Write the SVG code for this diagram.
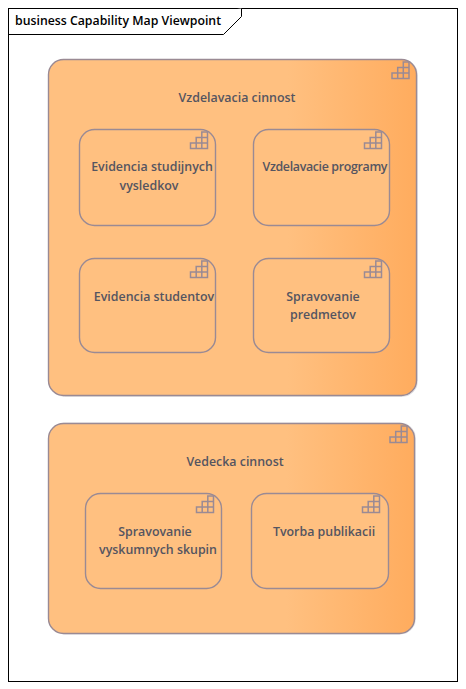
<svg xmlns="http://www.w3.org/2000/svg" width="466" height="689" viewBox="0 0 466 689">
<style>
.t{font-family:"Open Sans","Noto Sans","Liberation Sans",sans-serif;font-size:12.4px;font-weight:600;fill:#555560;text-anchor:middle}
.n{stroke:#9a8a94;stroke-width:1.4}
.o{fill:url(#go)}
.i{fill:url(#gi)}
.s{fill:none;stroke:#9a8a94;stroke-width:1.5}
.h{fill:none;stroke:#e4e4e6;stroke-width:1}
</style>
<defs>
<linearGradient id="go" x1="0" y1="0" x2="1" y2="0"><stop offset="0" stop-color="#FFC080"/><stop offset="0.65" stop-color="#FFC080"/><stop offset="1" stop-color="#FFAC5E"/></linearGradient>
<linearGradient id="gi" x1="0" y1="0" x2="1" y2="0"><stop offset="0" stop-color="#FFC080"/><stop offset="1" stop-color="#FFC080"/></linearGradient>
<path id="ic" d="M0 16.5H17V0H11.3V5.5H5.7V11H0ZM0 11H17M5.7 5.5H17M5.7 11V16.5M11.3 5.5V16.5"/>
</defs>
<rect width="466" height="689" fill="#fff"/>
<g id="frame">
<rect x="8.5" y="8.5" width="449" height="673" fill="#fff" stroke="#000" stroke-width="1"/>
<path d="M8.5 34.5H223.5L241.500 16.500V8.500" fill="#fff" stroke="#000"/>
<text x="15" y="25" font-family="'Open Sans','Noto Sans',sans-serif" font-size="12.3" font-weight="600" fill="#000">business Capability Map Viewpoint</text>
</g>
<g id="connectors"/>
<g id="vzdelavacia">
<rect class="h" x="49.500" y="59.500" width="368" height="337" rx="15"/>
<rect class="n o" x="48.500" y="59.500" width="368" height="336" rx="15"/>
<use href="#ic" class="s" x="392" y="62"/>
<text class="t" x="237" y="102">Vzdelavacia cinnost</text>
</g>
<g id="evidencia-vysledkov">
<rect class="n i" x="79.500" y="129.500" width="136" height="96" rx="15"/>
<use href="#ic" class="s" x="190.500" y="132"/>
<text class="t" x="152" y="171">Evidencia studijnych</text>
<text class="t" x="149" y="190">vysledkov</text>
</g>
<g id="vzdelavacie-programy">
<rect class="n i" x="253.500" y="129.500" width="136" height="96" rx="15"/>
<use href="#ic" class="s" x="364.500" y="132"/>
<text class="t" x="325" y="171" textLength="125" lengthAdjust="spacing">Vzdelavacie programy</text>
</g>
<g id="evidencia-studentov">
<rect class="n i" x="79.500" y="258.500" width="136" height="94" rx="15"/>
<use href="#ic" class="s" x="190.500" y="261"/>
<text class="t" x="154" y="301">Evidencia studentov</text>
</g>
<g id="spravovanie-predmetov">
<rect class="n i" x="253.500" y="258.500" width="136" height="94" rx="15"/>
<use href="#ic" class="s" x="364.500" y="261"/>
<text class="t" x="323" y="301">Spravovanie</text>
<text class="t" x="323" y="319">predmetov</text>
</g>
<g id="vedecka">
<rect class="h" x="49.500" y="423" width="366" height="211" rx="15"/>
<rect class="n o" x="48.500" y="423.500" width="366" height="210" rx="15"/>
<use href="#ic" class="s" x="390" y="426"/>
<text class="t" x="235" y="466">Vedecka cinnost</text>
</g>
<g id="spravovanie-skupin">
<rect class="n i" x="85.500" y="493.500" width="136" height="95" rx="15"/>
<use href="#ic" class="s" x="196.500" y="496"/>
<text class="t" x="155" y="536">Spravovanie</text>
<text class="t" x="158" y="554">vyskumnych skupin</text>
</g>
<g id="tvorba-publikacii">
<rect class="n i" x="251.500" y="493.500" width="137" height="95" rx="15"/>
<use href="#ic" class="s" x="362.500" y="496"/>
<text class="t" x="324" y="536">Tvorba publikacii</text>
</g>
</svg>
